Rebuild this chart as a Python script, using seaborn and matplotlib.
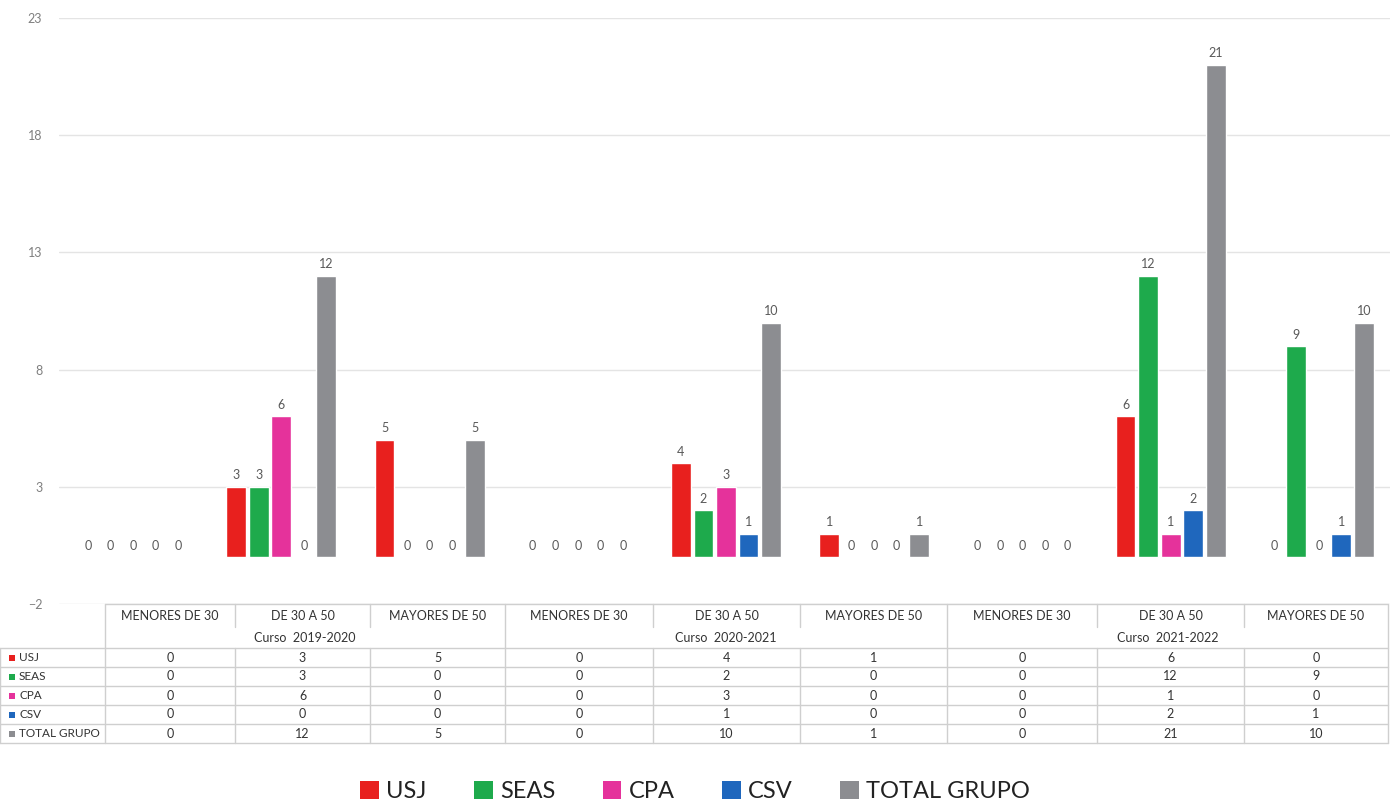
import pandas as pd
import matplotlib
matplotlib.use("Agg")
import matplotlib.pyplot as plt
from matplotlib.patches import Patch, Rectangle
import seaborn as sns

# Data
cursos = ["Curso  2019-2020", "Curso  2020-2021", "Curso  2021-2022"]
edades = ["MENORES DE 30", "DE 30 A 50", "MAYORES DE 50"]
series = ["USJ", "SEAS", "CPA", "CSV", "TOTAL GRUPO"]

usj = [0, 3, 5, 0, 4, 1, 0, 6, 0]
seas = [0, 3, 0, 0, 2, 0, 0, 12, 9]
cpa = [0, 6, 0, 0, 3, 0, 0, 1, 0]
csv = [0, 0, 0, 0, 1, 0, 0, 2, 1]
total = [0, 12, 5, 0, 10, 1, 0, 21, 10]

colores = ["#E8201E", "#1EAA4C", "#E5329B", "#1F67BD", "#8C8D91"]

valores = {"USJ": usj, "SEAS": seas, "CPA": cpa, "CSV": csv, "TOTAL GRUPO": total}
grupos = [f"{c}|{e}" for c in cursos for e in edades]

rows = []
for s in series:
    for g, v in zip(grupos, valores[s]):
        rows.append({"grupo": g, "serie": s, "valor": v})
df = pd.DataFrame(rows)

sns.set_theme(style="white")
plt.rcParams["font.family"] = ["Lato", "DejaVu Sans"]

W, H = 1390, 809
fig = plt.figure(figsize=(W / 100, H / 100), dpi=100)

# bar area (pixel layout converted to figure fractions)
x0, x1, ytop, ybot = 59, 1390, 18, 604
ax = fig.add_axes([x0 / W, 1 - ybot / H, (x1 - x0) / W, (ybot - ytop) / H])
sns.barplot(data=df, x="grupo", y="valor", hue="serie", order=grupos,
            hue_order=series, palette=colores, width=0.76, gap=0.12,
            saturation=1, errorbar=None, legend=False, ax=ax)

for c in ax.containers:
    ax.bar_label(c, fmt="%d", padding=4, fontsize=9, color="#595959")

ax.set_ylim(-2, 23)
ax.set_xlim(-0.5, 8.48)
ax.set_yticks([-2, 3, 8, 13, 18, 23])
ax.tick_params(axis="y", length=0, pad=12, labelsize=9, labelcolor="#7F7F7F")
ax.set_xticks([])
ax.set_xlabel("")
ax.set_ylabel("")
ax.yaxis.grid(True, color="#E4E4E4", linewidth=1)
ax.set_axisbelow(True)
for sp in ax.spines.values():
    sp.set_visible(False)
ax.patch.set_alpha(0)

# data table under the chart, drawn in pixel coordinates
axt = fig.add_axes([0, 0, 1, 1])
axt.set_xlim(0, W)
axt.set_ylim(H, 0)
axt.axis("off")

col_x = [105, 235, 370, 505, 653, 800, 947, 1097, 1244, 1388]
y_head, y_sub, y_rows = 604, 627, 648
row_h = 19
line_c = "#CFCFCF"
txt_c = "#333333"

axt.plot([col_x[0], col_x[-1]], [y_head, y_head], color=line_c, lw=1)
y_end = y_rows + row_h * len(series)
for i, xv in enumerate(col_x):
    if i % 3 == 0:
        axt.plot([xv, xv], [y_head, y_end], color=line_c, lw=1)
    else:
        axt.plot([xv, xv], [y_head, y_sub], color=line_c, lw=1)
        axt.plot([xv, xv], [y_rows, y_end], color=line_c, lw=1)

for j in range(len(grupos)):
    xc = (col_x[j] + col_x[j + 1]) / 2
    axt.text(xc, (y_head + y_sub) / 2, edades[j % 3], ha="center", va="center",
             fontsize=9, color=txt_c)
for k, c in enumerate(cursos):
    xc = (col_x[3 * k] + col_x[3 * k + 3]) / 2
    axt.text(xc, (y_sub + y_rows) / 2 + 1, c, ha="center", va="center",
             fontsize=9, color=txt_c)

for r, s in enumerate(series):
    ytop_r = y_rows + r * row_h
    axt.plot([0, col_x[-1]], [ytop_r, ytop_r], color=line_c, lw=1)
    yc = ytop_r + row_h / 2
    axt.add_patch(Rectangle((9, yc - 3), 6, 6, color=colores[r], lw=0))
    axt.text(19, yc, s, ha="left", va="center", fontsize=8.5, color=txt_c)
    for j, v in enumerate(valores[s]):
        xc = (col_x[j] + col_x[j + 1]) / 2
        axt.text(xc, yc, str(v), ha="center", va="center", fontsize=9, color=txt_c)
axt.plot([0, col_x[-1]], [y_end, y_end], color=line_c, lw=1)
axt.plot([0, 0], [y_rows, y_end], color=line_c, lw=1)

# legend
handles = [Patch(facecolor=c, edgecolor="none") for c in colores]
fig.legend(handles, series, loc="lower center", bbox_to_anchor=(0.5, -0.018),
           ncol=5, frameon=False, fontsize=17, handlelength=0.8,
           handleheight=0.8, handletextpad=0.3, columnspacing=2.0,
           labelcolor="#222222")

fig.savefig("out.png", dpi=100)
